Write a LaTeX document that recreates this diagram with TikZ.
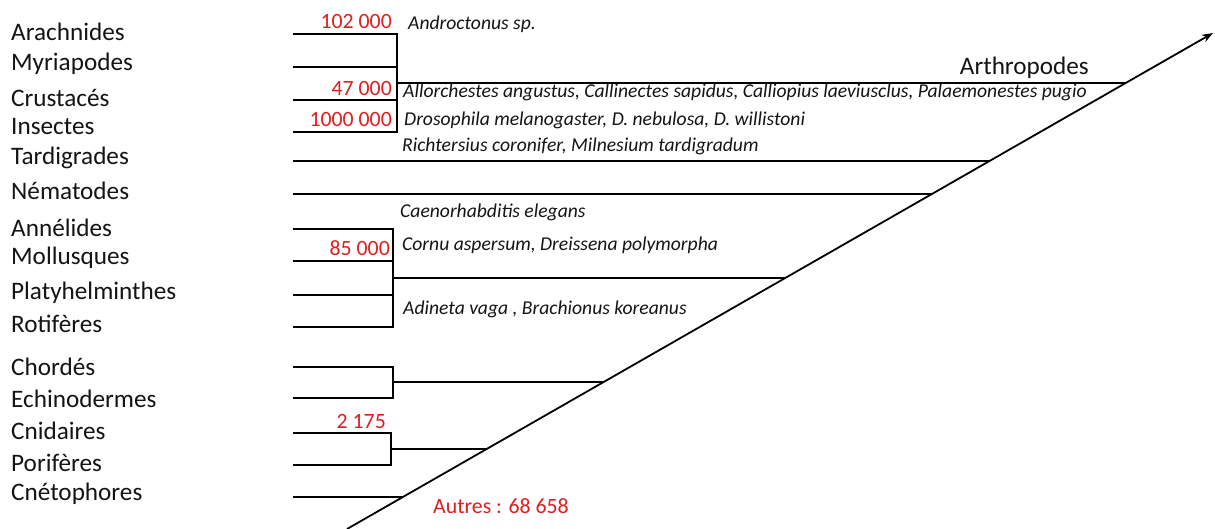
\documentclass[tikz,border=0pt]{standalone}
\usepackage{fontspec}
\setmainfont{Carlito}
\usetikzlibrary{arrows.meta}
\definecolor{numred}{RGB}{225,30,30}
\definecolor{txt}{RGB}{20,20,20}
\tikzset{
  taxon/.style={anchor=west,inner sep=0pt,font=\fontsize{25.2}{29}\selectfont,text=txt},
  species/.style={anchor=west,inner sep=0pt,font=\fontsize{19.6}{23}\itshape,text=txt},
  count/.style={anchor=east,inner sep=0pt,font=\fontsize{21.8}{25}\selectfont,text=numred},
  branch/.style={line width=1.6pt,draw=black},
  axis/.style={line width=1.8pt,draw=black,-{Stealth[length=11pt,width=8pt]}},
}
\begin{document}
\begin{tikzpicture}[x=1pt,y=-1pt]
\useasboundingbox (0,0) rectangle (1215,529);
% taxa labels
\node[taxon] (arach) at (11,32) {Arachnides};
\node[taxon] (myria) at (11,64) {Myriapodes};
\node[taxon] (crust) at (11,98) {Crustacés};
\node[taxon] (insec) at (11,127) {Insectes};
\node[taxon] (tardi) at (11,158) {Tardigrades};
\node[taxon] (nemat) at (11,191) {Nématodes};
\node[taxon] (annel) at (11,228) {Annélides};
\node[taxon] (mollu) at (11,258) {Mollusques};
\node[taxon] (platy) at (11,293) {Platyhelminthes};
\node[taxon] (rotif) at (11,324) {Rotifères};
\node[taxon] (chord) at (11,367) {Chordés};
\node[taxon] (echin) at (11,399) {Echinodermes};
\node[taxon] (cnida) at (11,431) {Cnidaires};
\node[taxon] (porif) at (11,463) {Porifères};
\node[taxon] (cneto) at (11,494) {Cnétophores};
\node[taxon,anchor=east] (arthro) at (1089,68) {Arthropodes};
% axis
\coordinate (ax0) at (347,529);
\coordinate (ax1) at (1213,33);
\draw[axis] (ax0) -- (ax1);
% leaf starts
\coordinate (l1) at (293,34);
\coordinate (l2) at (293,67);
\coordinate (l3) at (293,100);
\coordinate (l4) at (293,132);
\coordinate (l5) at (293,161);
\coordinate (l6) at (293,194);
\coordinate (l7) at (293,229);
\coordinate (l8) at (293,261);
\coordinate (l9) at (293,295);
\coordinate (l10) at (293,327);
\coordinate (l11) at (293,367);
\coordinate (l12) at (293,398);
\coordinate (l13) at (293,433);
\coordinate (l14) at (293,465);
\coordinate (l15) at (293,497);
% junctions
\coordinate (jA) at (397,83);
\coordinate (jB) at (393,278);
\coordinate (jC) at (393,382);
\coordinate (jD) at (391,449);
% points on the axis
\coordinate (aA) at (1125.7,83);
\coordinate (aT) at (989.5,161);
\coordinate (aN) at (931.9,194);
\coordinate (aB) at (785.2,278);
\coordinate (aC) at (603.7,382);
\coordinate (aD) at (486.7,449);
\coordinate (aE) at (402.9,497);
% arthropods
\draw[branch] (l1) -| (jA |- l4) -- (l4);
\draw[branch] (l2) -- (l2 -| jA);
\draw[branch] (l3) -- (l3 -| jA);
\draw[branch] (jA) -- (aA);
% tardigrades, nematodes
\draw[branch] (l5) -- (aT);
\draw[branch] (l6) -- (aN);
% lophotrochozoa
\draw[branch] (l7) -| (jB |- l10) -- (l10);
\draw[branch] (l8) -- (l8 -| jB);
\draw[branch] (l9) -- (l9 -| jB);
\draw[branch] (jB) -- (aB);
% deuterostomes
\draw[branch] (l11) -| (jC |- l12) -- (l12);
\draw[branch] (jC) -- (aC);
% cnidaria, porifera
\draw[branch] (l13) -| (jD |- l14) -- (l14);
\draw[branch] (jD) -- (aD);
% ctenophores
\draw[branch] (l15) -- (aE);
% counts
\node[count] (n1) at (392,22) {102 000};
\node[count] (n2) at (392,89) {47 000};
\node[count] (n3) at (392,120) {1000 000};
\node[count] (n4) at (390,248) {85 000};
\node[count] (n5) at (386,421) {2 175};
\node[count,anchor=west] (n6) at (433,506) {Autres : 68 658};
% species
\node[species] (s1) at (408,24) {Androctonus sp.};
\node[species] (s2) at (403,92) {Allorchestes angustus, Callinectes sapidus, Calliopius laeviusclus, Palaemonestes pugio};
\node[species] (s3) at (404,120) {Drosophila melanogaster, D. nebulosa, D. willistoni};
\node[species] (s4) at (402,146) {Richtersius coronifer, Milnesium tardigradum};
\node[species] (s5) at (400,212) {Caenorhabditis elegans};
\node[species] (s6) at (402,245) {Cornu aspersum, Dreissena polymorpha};
\node[species] (s7) at (403,309) {Adineta vaga , Brachionus koreanus};
\end{tikzpicture}
\end{document}
